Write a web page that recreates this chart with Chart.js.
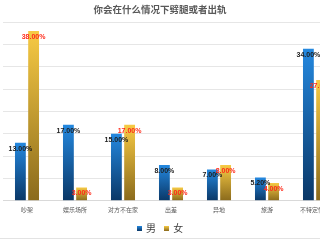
<!DOCTYPE html>
<html>
<head>
<meta charset="utf-8">
<script src="https://cdn.jsdelivr.net/npm/chart.js@4.4.1/dist/chart.umd.min.js"></script>
<style>
    html, body { margin: 0; padding: 0; background: #fff; }
    .quadro { position: relative; width: 320px; height: 240px; overflow: hidden; background: #fff; }
    .quadro canvas { position: absolute; left: 0; top: 0; }
    .titulo {
        position: absolute; left: 0; top: 2px; width: 320px; text-align: center;
        font-family: "Noto Sans CJK SC", sans-serif; font-size: 9.5px; font-weight: bold; color: #595959;
    }
    .legenda {
        position: absolute; left: 0; top: 220px; width: 320px; text-align: center;
        font-family: "Noto Sans CJK SC", sans-serif; font-size: 10px; color: #404040;
    }
    .legenda-item { display: inline-block; margin: 0 3px; }
    .legenda-icone { display: inline-block; width: 5px; height: 5px; margin-right: 4px; vertical-align: 1px; }
    .rodape { position: absolute; left: 0; top: 238px; width: 320px; border-top: 1px solid #e3e3e3; }
</style>
</head>
<body>
<div class="quadro">
    <canvas id="report" width="343" height="240"></canvas>
    <div class="titulo">你会在什么情况下劈腿或者出轨</div>
    <div class="legenda"></div>
    <div class="rodape"></div>
</div>
<script>
const categorias = ['吵架', '娱乐场所', '对方不在家', '出差', '异地', '旅游', '不特定情况'];
const valoresMasculino = [13, 17, 15, 8, 7, 5.2, 34];
const valoresFeminino = [38, 3, 17, 3, 8, 4, 27];
const nomesSeries = ['男', '女'];

// cor do topo e da base de cada barra
const cores = [
    ['#2488df', '#0a3766'],
    ['#f7ca44', '#8a6a1c']
];
const coresRotulo = ['#1c1c1c', '#ff2a1a'];

const fonte = '"Noto Sans CJK SC", "Liberation Sans", sans-serif';

gradiente_barra = function (ctx, serie) {
    const chart = ctx.chart;
    const y = chart.scales.y;
    if (!y || !ctx.parsed) return cores[serie][0];
    const topo = y.getPixelForValue(ctx.parsed.y);
    const base = y.getPixelForValue(0);
    if (!isFinite(topo) || topo === base) return cores[serie][0];
    const g = chart.ctx.createLinearGradient(0, topo, 0, base);
    g.addColorStop(0, cores[serie][0]);
    g.addColorStop(1, cores[serie][1]);
    return g;
}

const rotulosValores = {
    id: 'rotulosValores',
    afterDatasetsDraw(chart) {
        const ctx = chart.ctx;
        ctx.save();
        ctx.font = 'bold 7px "Liberation Sans", sans-serif';
        ctx.textAlign = 'center';
        ctx.textBaseline = 'middle';
        chart.data.datasets.forEach((ds, i) => {
            ctx.fillStyle = coresRotulo[i];
            chart.getDatasetMeta(i).data.forEach((bar, j) => {
                ctx.fillText(ds.data[j].toFixed(2) + '%', bar.x, bar.y + 6);
            });
        });
        ctx.restore();
    }
};

generate_legenda = function () {
    const legenda = document.querySelector('.legenda');
    legenda.innerHTML = '';
    nomesSeries.forEach((nome, index) => {
        legenda.innerHTML += `
            <span class="legenda-item">
                <span class="legenda-icone" style="background: linear-gradient(${cores[index][0]}, ${cores[index][1]})"></span>${nome}
            </span>`;
    });
}

const ctx = document.getElementById('report').getContext('2d');
const report_container = new Chart(ctx, {
    type: 'bar',
    data: {
        labels: categorias,
        datasets: [{
            label: nomesSeries[0],
            data: valoresMasculino,
            backgroundColor: (c) => gradiente_barra(c, 0),
            categoryPercentage: 0.55,
            barPercentage: 0.82
        }, {
            label: nomesSeries[1],
            data: valoresFeminino,
            backgroundColor: (c) => gradiente_barra(c, 1),
            categoryPercentage: 0.55,
            barPercentage: 0.82
        }]
    },
    options: {
        responsive: false,
        animation: false,
        devicePixelRatio: 1,
        layout: { padding: { top: 22, left: 3, right: 4, bottom: 22 } },
        scales: {
            x: {
                grid: { display: false, drawTicks: false },
                border: { color: '#d9d9d9' },
                ticks: { font: { size: 6, family: fonte }, color: '#595959', padding: 5, autoSkip: false, maxRotation: 0 }
            },
            y: {
                min: 0,
                max: 40,
                ticks: { display: false, stepSize: 5 },
                grid: { color: '#e6e6e6', drawTicks: false },
                border: { display: false }
            }
        },
        plugins: {
            legend: { display: false },
            title: { display: false },
            tooltip: { enabled: false }
        }
    },
    plugins: [rotulosValores]
});

generate_legenda();
</script>
</body>
</html>
